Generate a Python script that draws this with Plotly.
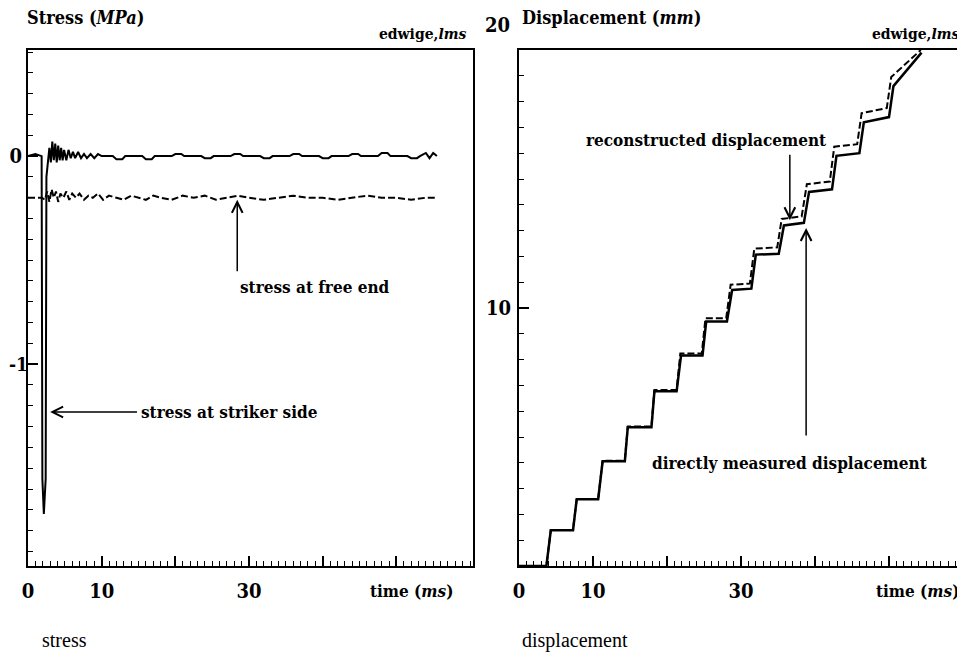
import plotly.graph_objects as go

# ---------------- data ----------------
# Left panel: stress (MPa) vs time (ms)
striker_t = [0, 1.0, 1.85, 1.95, 2.15, 2.4, 2.5, 2.7, 2.9, 3.1, 3.3, 3.5, 3.7, 3.9, 4.1, 4.3, 4.5,
             4.7, 4.9, 5.2, 5.5, 5.8, 6.1, 6.4, 6.8, 7.2, 7.6, 8.0, 8.5, 9.0, 9.5, 10.0,
             11.5, 12.0, 12.8, 13.2, 15.5, 16.0, 16.8, 17.2, 19.5, 20.0, 20.8, 21.2,
             23.5, 24.0, 24.8, 25.2, 27.5, 28.0, 28.8, 29.2, 31.5, 32.0, 32.8, 33.2,
             35.5, 36.0, 36.8, 37.2, 39.5, 40.0, 40.8, 41.2, 43.5, 44.0, 44.8, 45.2,
             47.5, 48.0, 48.8, 49.2, 51.5, 52.0, 52.8, 53.2, 54.0, 54.5, 55.0, 55.5]
striker_s = [0.0, 0.01, 0.0, -1.55, -1.72, -1.55, -0.1, -0.02, 0.04, -0.03, 0.07, -0.02, 0.06, -0.03, 0.05,
             -0.02, 0.04, -0.02, 0.03, -0.02, 0.03, -0.01, 0.02, -0.01, 0.02, -0.01, 0.01, -0.01,
             0.01, -0.01, 0.01, 0.0,
             0.0, -0.015, -0.015, 0.0, 0.0, -0.015, -0.015, 0.0, 0.0, 0.01, 0.01, 0.0,
             0.0, -0.01, -0.01, 0.0, 0.0, 0.01, 0.01, 0.0, 0.0, -0.01, -0.01, 0.0,
             0.0, 0.01, 0.01, 0.0, 0.0, -0.01, -0.01, 0.0, 0.0, 0.01, 0.01, 0.0,
             0.0, 0.015, 0.015, 0.0, 0.0, -0.01, -0.01, 0.0, 0.015, -0.01, 0.015, 0.0]

free_t = [0, 1.9, 2.3, 2.6, 2.9, 3.2, 3.5, 3.8, 4.1, 4.4, 4.8, 5.2, 5.6, 6.0, 6.5, 7.0,
          7.6, 8.2, 8.8, 9.5, 10.2, 11.0, 12.0, 13.0, 14.0, 15.0, 16.0, 17.0, 18.0, 19.5,
          21.0, 22.5, 24.0, 25.5, 27.0, 28.5, 30.0, 32.0, 34.0, 36.0, 38.0, 40.0, 42.0,
          44.0, 46.0, 48.0, 50.0, 52.0, 54.0, 55.5]
free_s = [-0.2, -0.2, -0.21, -0.17, -0.22, -0.16, -0.2, -0.17, -0.22, -0.18, -0.2, -0.17, -0.21,
          -0.18, -0.2, -0.18, -0.21, -0.19, -0.2, -0.18, -0.21, -0.19, -0.2, -0.21, -0.19,
          -0.2, -0.21, -0.19, -0.2, -0.21, -0.19, -0.2, -0.19, -0.21, -0.2, -0.19, -0.2,
          -0.21, -0.2, -0.19, -0.2, -0.2, -0.21, -0.2, -0.19, -0.2, -0.2, -0.21, -0.2, -0.2]

# Right panel: displacement (mm) vs time (ms)
meas_t = [0, 3.7, 4.3, 7.3, 7.8, 10.7, 11.3, 14.3, 14.7, 17.9, 18.3, 21.3, 21.9, 24.8,
          25.3, 28.1, 28.8, 31.4, 32.0, 35.1, 35.8, 38.5, 39.2, 42.3, 42.9, 46.0, 46.6,
          50.0, 50.6, 54.4]
meas_d = [0, 0, 1.39, 1.39, 2.59, 2.59, 4.06, 4.06, 5.38, 5.38, 6.77, 6.77, 8.16, 8.16,
          9.48, 9.48, 10.7, 10.75, 12.07, 12.1, 13.2, 13.3, 14.5, 14.6, 15.9, 16.0, 17.2,
          17.4, 18.6, 19.9]
rec_t = [0, 3.7, 4.3, 7.3, 7.8, 10.7, 11.3, 14.3, 14.7, 17.9, 18.3, 21.3, 21.8, 24.7,
         25.2, 28.0, 28.6, 31.2, 31.8, 34.9, 35.5, 38.2, 38.9, 42.0, 42.6, 45.7, 46.3,
         49.7, 50.3, 54.3]
rec_d = [0, 0, 1.4, 1.4, 2.6, 2.6, 4.08, 4.08, 5.41, 5.41, 6.82, 6.82, 8.24, 8.24,
         9.6, 9.6, 10.9, 10.95, 12.3, 12.35, 13.45, 13.55, 14.8, 14.9, 16.25, 16.35, 17.55,
         17.75, 18.95, 20.0]

x_major = [0, 10, 20, 30, 40, 50]
x_labels = ["0", "10", "", "30", "", ""]
stress_ticks = [0, -1]
stress_labels = ["0", ""]      # "-1" is drawn as a text label right beside its tick
minus_one_label = "-1"

# ---------------- figure ----------------
W, H = 965, 658
OFF = 8  # default page (body) margin in the browser


def px(x):
    return (x - OFF) / W


def py(y):
    return 1 - (y - OFF) / H


BOLD = "DejaVu Serif Condensed, DejaVu Serif, serif"
ink = "black"

fig = go.Figure()
fig.add_trace(go.Scatter(x=striker_t, y=striker_s, mode="lines",
                         line=dict(color=ink, width=2), xaxis="x", yaxis="y"))
fig.add_trace(go.Scatter(x=free_t, y=free_s, mode="lines",
                         line=dict(color=ink, width=2, dash="7px,3px"), xaxis="x", yaxis="y"))
fig.add_trace(go.Scatter(x=meas_t, y=meas_d, mode="lines",
                         line=dict(color=ink, width=2.5), xaxis="x2", yaxis="y2"))
fig.add_trace(go.Scatter(x=rec_t, y=rec_d, mode="lines",
                         line=dict(color=ink, width=2, dash="7px,3px"), xaxis="x2", yaxis="y2"))

tickfont = dict(family=BOLD, size=20, color=ink, weight="bold")
common = dict(showline=True, linewidth=2, linecolor=ink, mirror=True, showgrid=False,
              zeroline=False, ticks="inside", tickcolor=ink, tickwidth=1.5,
              tickfont=tickfont, automargin=False)

fig.update_layout(
    width=W, height=H, margin=dict(l=0, r=0, t=0, b=0),
    paper_bgcolor="white", plot_bgcolor="white", showlegend=False,
    xaxis=dict(domain=[px(28), px(473)], range=[0, 60.4], anchor="y",
               tickmode="array", tickvals=x_major, ticktext=x_labels, ticklen=10,
               ticklabelstandoff=6,
               minor=dict(ticks="inside", dtick=1, ticklen=5, tickcolor=ink, tickwidth=1),
               **common),
    yaxis=dict(domain=[py(566), py(50)], range=[-1.97, 0.51], anchor="x",
               tickmode="array", tickvals=stress_ticks, ticktext=stress_labels, ticklen=10,
               ticklabelstandoff=0,
               minor=dict(ticks="inside", dtick=0.1, tick0=0, ticklen=5, tickcolor=ink, tickwidth=1),
               **common),
    xaxis2=dict(domain=[px(519), px(963)], range=[0, 60], anchor="y2",
                tickmode="array", tickvals=x_major, ticktext=x_labels, ticklen=10,
                ticklabelstandoff=6,
                minor=dict(ticks="inside", dtick=1, ticklen=5, tickcolor=ink, tickwidth=1),
                **common),
    yaxis2=dict(domain=[py(566), py(50)], range=[0, 20], anchor="x2",
                tickmode="array", tickvals=[10], ticktext=["10"], ticklen=10,
                ticklabelstandoff=2,
                minor=dict(ticks="inside", dtick=1, tick0=0, ticklen=5, tickcolor=ink, tickwidth=1),
                **common),
)


def text_ann(txt, x, y, xanchor="left", size=18, family=BOLD, bold=True, xref="paper", yref="paper"):
    t = f"<b>{txt}</b>" if bold else txt
    fig.add_annotation(text=t, x=x, y=y, xref=xref, yref=yref, xanchor=xanchor,
                       yanchor="middle", showarrow=False,
                       font=dict(family=family, size=size, color=ink))


def arrow(x, y, ax, ay, xr, yr):
    fig.add_annotation(text="", x=x, y=y, ax=ax, ay=ay, xref=xr, yref=yr, axref=xr, ayref=yr,
                       showarrow=True, arrowhead=5, arrowsize=1.4, arrowwidth=1.5, arrowcolor=ink)


# "-1" tick label of the stress axis, kept inside the page
fig.add_annotation(text=f"<b>{minus_one_label}</b>", x=px(9), y=stress_ticks[1],
                   xref="paper", yref="y", xanchor="left", yanchor="middle", showarrow=False,
                   xshift=-2, font=dict(family=BOLD, size=19, color=ink))

# headers
text_ann("Stress (<i>MPa</i>)", px(25), py(17), size=18)
text_ann("edwige,<i>lms</i>", px(468), py(34), xanchor="right", size=15.5)
text_ann("Displacement (<i>mm</i>)", px(520), py(17), size=18)
text_ann("edwige,<i>lms</i>", px(961), py(34), xanchor="right", size=15.5)
text_ann("20", px(497), py(25), xanchor="center", size=20)
text_ann("time (<i>ms</i>)", px(411), py(591), xanchor="center", size=17)
text_ann("time (<i>ms</i>)", px(917), py(591), xanchor="center", size=17)
# captions
text_ann("stress", px(40), py(640), size=20, family="Liberation Serif, serif", bold=False)
text_ann("displacement", px(520), py(640), size=20, family="Liberation Serif, serif", bold=False)

# left panel labels
text_ann("stress at free end", 39.0, -0.63, xanchor="center", size=17, xref="x", yref="y")
arrow(28.4, -0.21, 28.4, -0.56, "x", "y")
text_ann("stress at striker side", 15.0, -1.23, size=17, xref="x", yref="y")
arrow(3.0, -1.23, 15.0, -1.23, "x", "y")

# right panel labels
text_ann("reconstructed displacement", 25.3, 16.5, xanchor="center", size=17, xref="x2", yref="y2")
arrow(36.6, 13.4, 36.6, 16.0, "x2", "y2")
text_ann("directly measured displacement", 36.6, 4.0, xanchor="center", size=17, xref="x2", yref="y2")
arrow(38.8, 13.1, 38.8, 5.0, "x2", "y2")

fig.write_html("out.html")
